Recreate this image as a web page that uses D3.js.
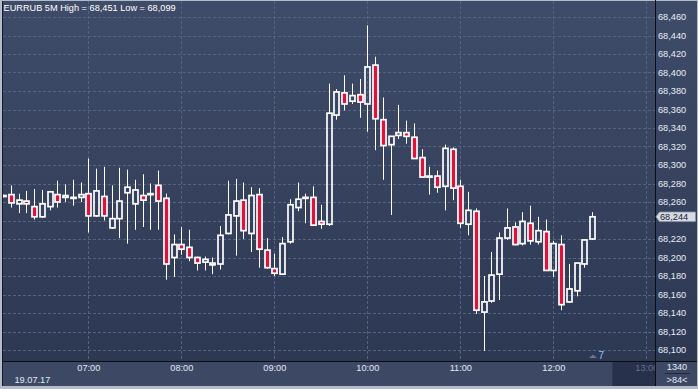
<!DOCTYPE html>
<html>
<head>
<meta charset="utf-8">
<script src="https://cdn.jsdelivr.net/npm/d3@7"></script>
<style>
body { margin: 0; background: #b4bcc8; }
svg { display: block; font-family: "Liberation Sans", Arial, sans-serif; }
</style>
</head>
<body>
<div id="chart"></div>
<script>
// 5 minute candles, EURRUB 19.07.17
const times = ["06:05","06:10","06:15","06:20","06:25","06:30","06:35","06:40","06:45","06:50","06:55",
    "07:00","07:05","07:10","07:15","07:20","07:25","07:30","07:35","07:40","07:45","07:50","07:55",
    "08:00","08:05","08:10","08:15","08:20","08:25","08:30","08:35","08:40","08:45","08:50","08:55",
    "09:00","09:05","09:10","09:15","09:20","09:25","09:30","09:35","09:40","09:45","09:50","09:55",
    "10:00","10:05","10:10","10:15","10:20","10:25","10:30","10:35","10:40","10:45","10:50","10:55",
    "11:00","11:05","11:10","11:15","11:20","11:25","11:30","11:35","11:40","11:45","11:50","11:55",
    "12:00","12:05","12:10","12:15","12:20","12:25"];
const opens = [68266,68268,68258,68261,68255,68244,68255,68268,68265,68264,68265,
    68269,68245,68266,68232,68242,68270,68258,68267,68268,68278,68264,68200,
    68214,68211,68200,68195,68194,68193,68226,68245,68262,68226,68268,68208,
    68188,68182,68217,68254,68264,68265,68239,68236,68354,68378,68369,68376,
    68366,68408,68349,68322,68332,68335,68330,68308,68287,68288,68277,68317,
    68277,68236,68250,68141,68153,68182,68221,68233,68215,68237,68217,68228,
    68186,68214,68152,68164,68193,68220];
const highs = [68268,68278,68269,68272,68274,68273,68272,68283,68279,68284,68281,
    68307,68296,68298,68278,68297,68295,68284,68290,68280,68294,68269,68225,
    68233,68230,68201,68201,68200,68234,68283,68285,68281,68276,68275,68221,
    68204,68222,68263,68281,68269,68277,68257,68388,68382,68397,68388,68393,
    68451,68417,68373,68331,68365,68348,68345,68317,68298,68294,68322,68319,
    68284,68271,68253,68180,68206,68227,68253,68238,68249,68256,68244,68241,
    68218,68224,68193,68194,68220,68249];
const lows = [68265,68254,68248,68248,68241,68243,68251,68254,68260,68256,68260,
    68227,68244,68240,68231,68221,68215,68230,68233,68230,68230,68176,68179,
    68203,68196,68186,68186,68182,68187,68225,68202,68220,68206,68189,68188,
    68180,68181,68215,68250,68237,68234,68231,68234,68349,68359,68366,68351,
    68336,68316,68284,68246,68328,68323,68307,68287,68268,68270,68251,68262,
    68232,68224,68139,68099,68151,68154,68219,68213,68213,68214,68214,68186,
    68179,68143,68151,68158,68189,68219];
const closes = [68267,68259,68262,68258,68244,68258,68271,68260,68267,68265,68268,
    68245,68272,68245,68242,68261,68276,68273,68262,68269,68261,68193,68214,
    68209,68200,68194,68198,68192,68224,68246,68261,68229,68267,68209,68189,
    68183,68215,68257,68263,68265,68235,68236,68356,68379,68366,68375,68368,
    68406,68350,68321,68331,68335,68331,68307,68287,68288,68276,68318,68275,
    68237,68251,68143,68152,68181,68221,68232,68214,68239,68218,68229,68186,
    68215,68149,68166,68194,68219,68244];

const priceTicks = [68100,68120,68140,68160,68180,68200,68220,68240,68260,68280,
    68300,68320,68340,68360,68380,68400,68420,68440,68460];
const hourTicks = ["07:00","08:00","09:00","10:00","11:00","12:00","13:00"];
const lastPrice = 68244;
const title = "EURRUB 5M High = 68,451 Low = 68,099";

const W = 698, H = 389;
const plot = { left: 3, right: 655, top: 1, bottom: 361 };
const parse = d3.timeParse("%H:%M");

const data = times.map((t, i) => ({ t: parse(t), o: opens[i], h: highs[i], l: lows[i], c: closes[i] }));

const x = d3.scaleTime().domain([parse("07:00"), parse("12:00")]).range([88.3, 553.3]);
const y = d3.scaleLinear().domain([68100, 68460]).range([350, 17]);

const svg = d3.select("#chart").append("svg").attr("width", W).attr("height", H);
const defs = svg.append("defs");

const bg = defs.append("linearGradient").attr("id", "bg").attr("x1", 0).attr("y1", 0).attr("x2", 0).attr("y2", 1);
bg.append("stop").attr("offset", "0%").attr("stop-color", "#3f4c69");
bg.append("stop").attr("offset", "100%").attr("stop-color", "#2d3853");

defs.append("clipPath").attr("id", "plotClip").append("rect")
    .attr("x", plot.left).attr("y", plot.top).attr("width", plot.right - plot.left).attr("height", plot.bottom - plot.top);
// local to the translated x axis group
defs.append("clipPath").attr("id", "xClip").append("rect")
    .attr("x", plot.left).attr("y", 0).attr("width", plot.right - plot.left).attr("height", 26);

// frame and panels
svg.append("rect").attr("width", W).attr("height", H).attr("fill", "#b4bcc8");
svg.append("rect").attr("x", 2).attr("y", 1).attr("width", 695).attr("height", 360).attr("fill", "url(#bg)");
svg.append("rect").attr("x", 2).attr("y", 361).attr("width", 695).attr("height", 25).attr("fill", "#3c4864");
svg.append("rect").attr("x", 613).attr("y", 362).attr("width", 42).attr("height", 24).attr("fill", "#27314b");
svg.append("line").attr("x1", 612.5).attr("x2", 612.5).attr("y1", 362).attr("y2", 386).attr("stroke", "#2f3a55");

// grid
const grid = svg.append("g").attr("clip-path", "url(#plotClip)")
    .attr("stroke", "#56637d").attr("stroke-dasharray", "3,2").attr("stroke-width", 1);
grid.selectAll(".hg").data(priceTicks).enter().append("line")
    .attr("x1", plot.left).attr("x2", plot.right)
    .attr("y1", d => Math.round(y(d)) + 0.5).attr("y2", d => Math.round(y(d)) + 0.5);
grid.selectAll(".vg").data(hourTicks).enter().append("line")
    .attr("x1", d => Math.round(x(parse(d))) + 0.5).attr("x2", d => Math.round(x(parse(d))) + 0.5)
    .attr("y1", plot.top).attr("y2", plot.bottom);

// candles
const candles = svg.append("g").attr("clip-path", "url(#plotClip)");
candles.selectAll("g.candle")
    .data(data)
    .enter()
    .append("g")
    .attr("class", "candle")
    .each(function(d) {
        const g = d3.select(this);
        const cx = Math.round(x(d.t)) + 0.5;
        const top = y(Math.max(d.o, d.c)), bot = y(Math.min(d.o, d.c));
        g.append("line").attr("x1", cx).attr("x2", cx).attr("y1", y(d.h)).attr("y2", top)
            .attr("stroke", "#ffffff").attr("stroke-width", 1);
        g.append("line").attr("x1", cx).attr("x2", cx).attr("y1", bot).attr("y2", y(d.l))
            .attr("stroke", "#ffffff").attr("stroke-width", 1);
        g.append("rect")
            .attr("x", cx - 2.5).attr("width", 5)
            .attr("y", top).attr("height", Math.max(bot - top, 1))
            .attr("fill", d.c < d.o ? "#dc143c" : "none")
            .attr("stroke", "#ffffff").attr("stroke-width", 1.7);
    });

// separators
svg.append("line").attr("x1", 655.5).attr("x2", 655.5).attr("y1", 0).attr("y2", 386).attr("stroke", "#0a0d14");
svg.append("line").attr("x1", 2).attr("x2", 697).attr("y1", 361.5).attr("y2", 361.5).attr("stroke", "#0a0d14");
svg.append("line").attr("x1", 2.5).attr("x2", 2.5).attr("y1", 1).attr("y2", 386).attr("stroke", "#141a28");

// right price axis; the label under the last price tag is covered
const ly = y(lastPrice);
const yAxis = svg.append("g").attr("transform", "translate(657,0)")
    .call(d3.axisRight(y).tickValues(priceTicks).tickSize(0).tickPadding(1).tickFormat(d3.format(",")));
yAxis.select(".domain").remove();
yAxis.selectAll("text").attr("fill", "#e8eef8").attr("font-size", "9.2px")
    .attr("font-family", "'Liberation Sans', Arial, sans-serif")
    .attr("visibility", d => Math.abs(y(d) - ly) < 9 ? "hidden" : null);

// last price tag
svg.append("path")
    .attr("d", `M656,${ly} L659.5,${ly - 4.8} L695.5,${ly - 4.8} L695.5,${ly + 4.8} L659.5,${ly + 4.8} Z`)
    .attr("fill", "#d6dbe4").attr("stroke", "#8b95a8").attr("stroke-width", 0.8);
svg.append("text").attr("x", 660).attr("y", ly + 3.3).attr("font-size", "9.2px").attr("fill", "#1b2233")
    .text(d3.format(",")(lastPrice));

// bottom time axis
const xAxis = svg.append("g").attr("transform", `translate(0,${plot.bottom})`).attr("clip-path", "url(#xClip)")
    .call(d3.axisBottom(x).tickValues(hourTicks.map(parse)).tickSize(0).tickPadding(3).tickFormat(d3.timeFormat("%H:%M")));
xAxis.select(".domain").remove();
xAxis.selectAll("text").attr("fill", d => d > parse("12:30") ? "#66728c" : "#e3e9f3")
    .attr("font-size", "9.2px").attr("font-family", "'Liberation Sans', Arial, sans-serif");

svg.append("text").attr("x", 14.5).attr("y", 382.5).attr("font-size", "9.2px").attr("fill", "#e3e9f3").text("19.07.17");

// corner box
svg.append("text").attr("x", 677).attr("y", 370).attr("text-anchor", "middle").attr("font-size", "9.2px").attr("fill", "#e3e9f3").text("1340");
svg.append("line").attr("x1", 665).attr("x2", 690).attr("y1", 373.5).attr("y2", 373.5).attr("stroke", "#1e2740");
svg.append("text").attr("x", 677).attr("y", 382.5).attr("text-anchor", "middle").attr("font-size", "9.2px").attr("fill", "#e3e9f3").text(">84<");

// small marker in plot corner
svg.append("path").attr("d", "M589,358 L593,354.5 L597,358 Z").attr("fill", "#6b7794");
svg.append("text").attr("x", 598.5).attr("y", 359).attr("font-size", "10px").attr("fill", "#8cc4ff").text("7");

// title
svg.append("text").attr("x", 3.5).attr("y", 10.5).attr("font-size", "9.2px").attr("fill", "#ffffff").text(title);
</script>
</body>
</html>
